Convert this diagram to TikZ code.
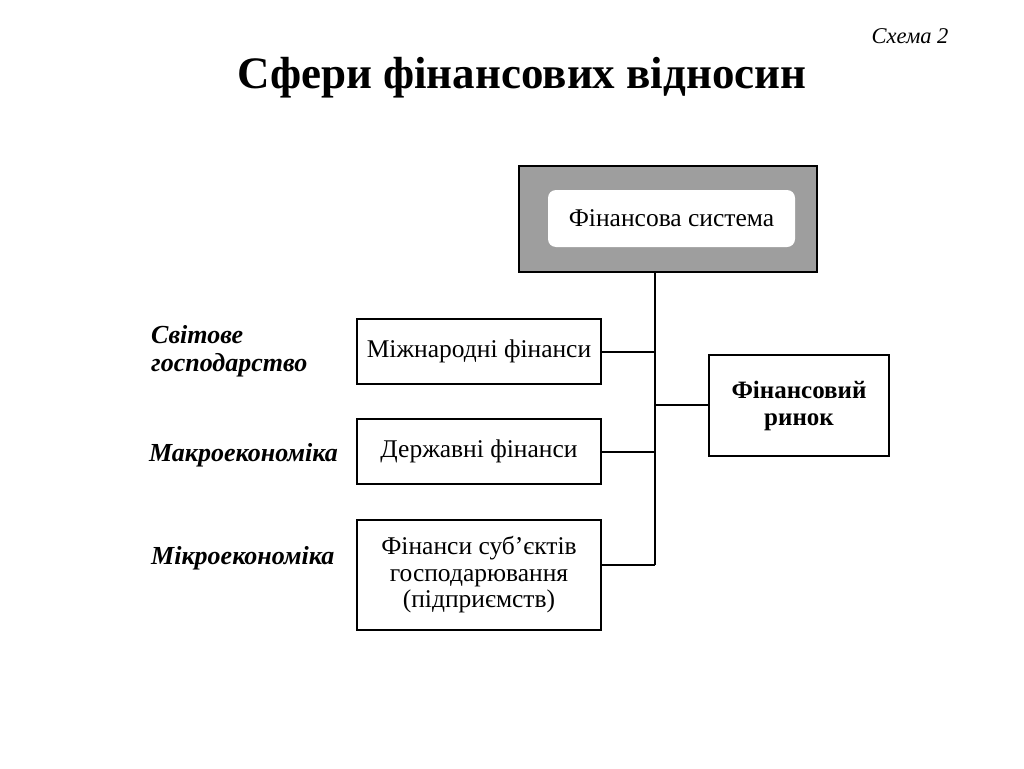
\documentclass[tikz,border=0pt]{standalone}
\usepackage{fontspec}
\setmainfont{Liberation Serif}
\begin{document}
\begin{tikzpicture}[x=1pt,y=-1pt,
  box/.style={draw=black,line width=1.8pt,fill=white,inner sep=0pt,align=center,font=\fontsize{25.5}{26.5}\selectfont},
  lbl/.style={anchor=west,align=left,inner sep=0pt,font=\fontsize{26}{28}\selectfont\bfseries\itshape},
  conn/.style={line width=2pt}]
\useasboundingbox[fill=white] (0,0) rectangle (1024,768);
\node[font=\fontsize{45}{48}\selectfont\bfseries] (title) at (522,78) {Сфери фінансових відносин};
\node[font=\fontsize{22.5}{24}\selectfont\itshape,anchor=east] (schema) at (952,36) {Схема 2};
% top box
\node[draw=black,line width=1.8pt,fill=black!38,minimum width=298pt,minimum height=106pt,inner sep=0pt] (fs) at (668,219) {};
\node[fill=white,rounded corners=8pt,minimum width=247pt,minimum height=57pt,inner sep=0pt,font=\fontsize{25.5}{27}\selectfont] (fsin) at (671.5,218.5) {Фінансова система};
% left boxes
\node[box,minimum width=244pt,minimum height=65pt] (mf) at (479,351.5) {Міжнародні фінанси};
\node[box,minimum width=244pt,minimum height=65pt] (df) at (479,451.5) {Державні фінанси};
\node[box,minimum width=244pt,minimum height=110pt] (sf) at (479,575) {Фінанси суб’єктів\\господарювання\\(підприємств)};
% right box
\node[box,minimum width=180pt,minimum height=101pt,font=\fontsize{25}{27}\selectfont\bfseries] (fr) at (799,405.5) {Фінансовий\\ринок};
% labels
\node[lbl] (l1) at (151,351) {Світове\\господарство};
\node[lbl] (l2) at (149,455) {Макроекономіка};
\node[lbl] (l3) at (151,558) {Мікроекономіка};
% connectors
\coordinate (top) at (655,272);
\coordinate (bot) at (655,565);
\draw[conn] (fs.south -| top) -- (bot);
\draw[conn] (mf.east |- 0,352) -- (top |- 0,352);
\draw[conn] (df.east |- 0,452) -- (top |- 0,452);
\draw[conn] (sf.east |- bot) -- (bot);
\draw[conn] (fr.west |- 0,405) -- (top |- 0,405);
\end{tikzpicture}
\end{document}
